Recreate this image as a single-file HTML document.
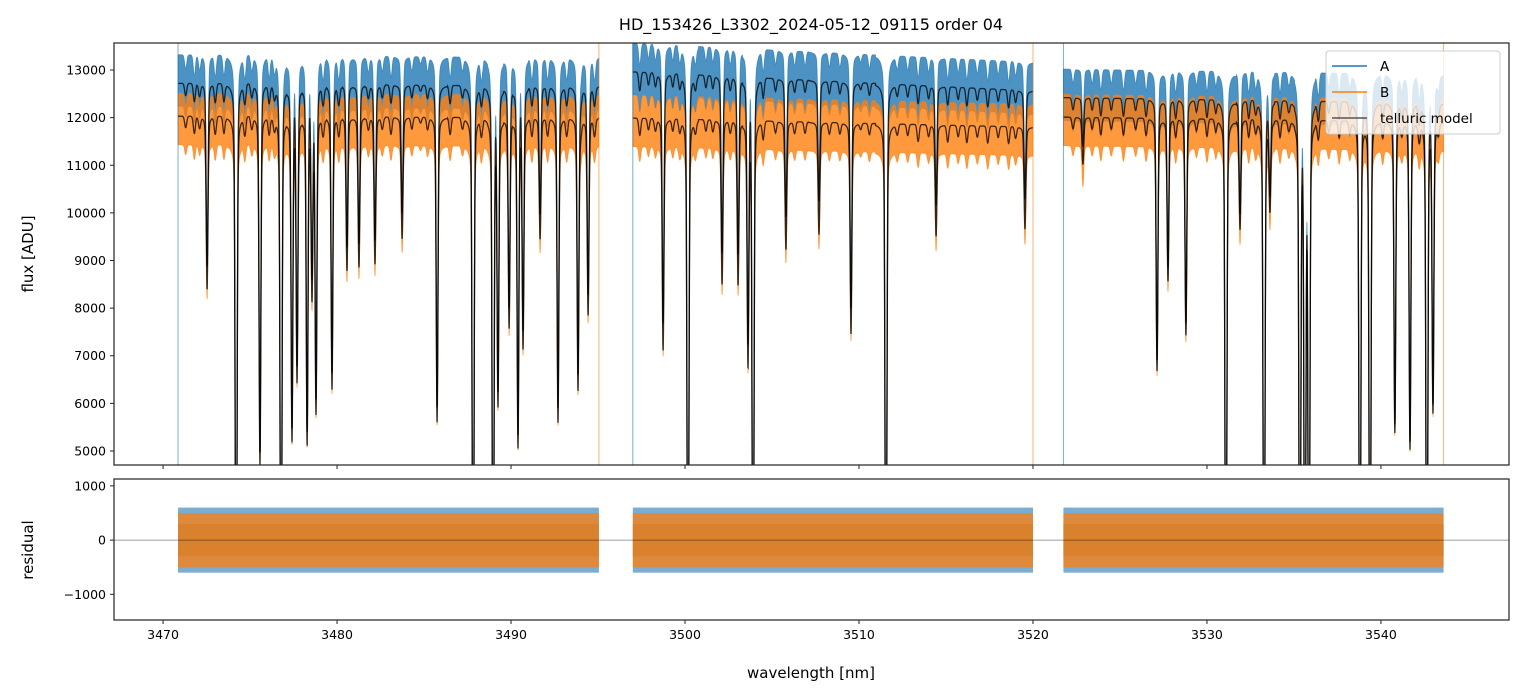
<!DOCTYPE html>
<html><head><meta charset="utf-8"><style>
body{margin:0;background:#fff;}
svg{display:block;font-family:"DejaVu Sans","Liberation Sans",sans-serif;}
</style></head><body>
<svg id="chart" width="1523" height="696" xmlns="http://www.w3.org/2000/svg">
<text x="811" y="30" text-anchor="middle" font-size="16" fill="#000">HD_153426_L3302_2024-05-12_09115  order 04</text>
<text x="811" y="678" text-anchor="middle" font-size="15" fill="#000">wavelength [nm]</text>
<text transform="translate(33,254) rotate(-90)" text-anchor="middle" font-size="15" fill="#000">flux [ADU]</text>
<text transform="translate(33,550) rotate(-90)" text-anchor="middle" font-size="15" fill="#000">residual</text>
<g id="main"></g>
<g id="resid"></g>
</svg>
<script>
// ---- data ----
const xTicks = [3470,3480,3490,3500,3510,3520,3530,3540];
const fluxTicks = [5000,6000,7000,8000,9000,10000,11000,12000,13000];
const residTicks = [-1000,0,1000];
const segStart = [3470.86, 3497.0, 3521.75];
const segEnd   = [3495.05, 3520.0, 3543.6];
// continuum knots per segment [start, end] for A and B
const contAStart = [12720, 12960, 12420];
const contAEnd   = [12650, 12560, 12300];
const contBStart = [12030, 11990, 12010];
const contBEnd   = [11990, 11800, 11900];
// deep telluric lines: centre (nm) and minimum flux
const lineCenters = [3472.53,3474.20,3475.57,3476.78,3477.41,3477.70,3478.28,3478.56,3478.79,3479.71,3480.57,3481.26,3482.18,3483.74,3485.75,3487.82,3488.97,3489.25,3489.89,3490.40,3490.69,3491.67,3492.70,3493.85,3494.43,
 3498.74,3500.17,3502.13,3503.05,3503.62,3503.91,3505.80,3507.70,3509.54,3511.55,3514.43,3519.54,
 3522.87,3527.13,3527.76,3528.79,3531.09,3531.90,3533.28,3533.62,3535.34,3535.63,3535.86,3538.79,3539.37,3540.80,3541.67,3542.64,3542.99];
const lineMinFlux = [8860,0,4960,0,5500,6850,5440,8750,6130,6640,9280,9360,9430,10000,5920,0,0,6340,8030,5380,7600,10000,5920,6640,8320,
 7600,0,9100,9100,7330,0,9910,10270,8030,0,10270,10480,
 11380,6910,8860,7690,0,10000,0,10480,0,0,0,0,0,5590,5230,0,6080];
// shallow lines (wiggles in model)
const weakCenters = [3471.3,3471.8,3472.1,3473.0,3473.5,3474.7,3475.1,3476.1,3476.4,3479.2,3480.1,3481.8,3482.6,3483.1,3484.3,3484.8,3485.2,3486.5,3487.2,3488.3,3491.2,3492.1,3493.2,3494.0,3494.8,
 3497.4,3497.9,3498.3,3499.3,3499.7,3500.6,3501.2,3501.6,3502.6,3504.5,3505.2,3506.3,3506.9,3508.3,3508.9,3510.1,3510.6,3512.2,3512.8,3513.4,3514.0,3515.1,3515.7,3516.2,3516.8,3517.4,3518.0,3518.6,3519.0,
 3522.3,3523.4,3523.9,3524.5,3525.2,3525.9,3526.5,3528.2,3529.4,3530.0,3530.5,3532.4,3532.8,3534.2,3534.7,3536.4,3537.0,3537.6,3538.2,3540.1,3541.2,3542.2,3543.3];
const weakDepth = [0.02,0.03,0.02,0.03,0.03,0.03,0.02,0.03,0.02,0.03,0.03,0.02,0.02,0.03,0.02,0.01,0.02,0.03,0.02,0.03,0.03,0.03,0.03,0.02,0.03,
 0.03,0.02,0.02,0.02,0.02,0.02,0.02,0.02,0.02,0.03,0.02,0.02,0.02,0.02,0.02,0.01,0.02,0.02,0.02,0.03,0.02,0.03,0.02,0.03,0.02,0.03,0.02,0.03,0.02,
 0.02,0.02,0.03,0.02,0.03,0.02,0.03,0.03,0.02,0.03,0.02,0.03,0.02,0.03,0.02,0.03,0.02,0.03,0.02,0.03,0.02,0.03,0.02];
const noiseA = 600;
const noiseB = 600;
const residCoreHalf = 300, residBHalf = 500, residAHalf = 600;

// ---- geometry ----
const L=114,R=1509,T1=43,B1=465,T2=479,B2=620;
const xmin=3467.18,xmax=3547.36,ymin=4706,ymax=13567,rmin=-1473,rmax=1127;
const X=v=>L+(v-xmin)/(xmax-xmin)*(R-L);
const Y=v=>B1-(v-ymin)/(ymax-ymin)*(B1-T1);
const YR=v=>B2-(v-rmin)/(rmax-rmin)*(B2-T2);
const NS='http://www.w3.org/2000/svg';
function mk(tag,attrs,parent){const e=document.createElementNS(NS,tag);for(const k in attrs)e.setAttribute(k,attrs[k]);parent.appendChild(e);return e;}
const svg=document.getElementById('chart');
const main=document.getElementById('main'), resid=document.getElementById('resid');
const cp1=mk('clipPath',{id:'c1'},svg);mk('rect',{x:L,y:T1,width:R-L,height:B1-T1},cp1);
const cp2=mk('clipPath',{id:'c2'},svg);mk('rect',{x:L,y:T2,width:R-L,height:B2-T2},cp2);

function trans(l){
  let t=1;
  for(let i=0;i<lineCenters.length;i++){
    const c=lineCenters[i];const dd=l-c; if(Math.abs(dd)>0.6)continue;
    const ref=(c<3496?12700:(c<3521?12800:12400));
    const d=Math.min(1.0,1-lineMinFlux[i]/ref);
    const s=0.05;
    t*=1-d*(0.85*Math.exp(-dd*dd/(2*s*s))+0.15/(1+(dd/0.09)**2));
  }
  for(let i=0;i<weakCenters.length;i++){const dd=l-weakCenters[i];if(Math.abs(dd)>0.5)continue;t*=1-weakDepth[i]*Math.exp(-dd*dd/(2*0.06*0.06));}
  return Math.max(t,0);
}
function cont(si,l,st,en){const f=(l-segStart[si])/(segEnd[si]-segStart[si]);return st[si]+(en[si]-st[si])*f;}

const gA=mk('g',{'clip-path':'url(#c1)'},main);
for(let si=0;si<segStart.length;si++){
  const pts=[];for(let l=segStart[si];l<=segEnd[si];l+=0.008)pts.push(l);
  const tr=pts.map(trans);
  function band(st,en,up,dn){let top='',bot='';
    pts.forEach((l,i)=>{const m=cont(si,l,st,en)*tr[i];const sc=Math.pow(Math.max(tr[i],0),3);
      top+=(i?'L':'M')+X(l).toFixed(2)+','+Y(m+up*sc).toFixed(2);});
    for(let i=pts.length-1;i>=0;i--){const l=pts[i];const m=cont(si,l,st,en)*tr[i];const sc=Math.pow(Math.max(tr[i],0),3);bot+='L'+X(l).toFixed(2)+','+Y(m-dn*sc).toFixed(2);}
    return top+bot+'Z';}
  const bA=mk('path',{d:band(contAStart,contAEnd,noiseA,noiseA*0.8),fill:'#1f77b4','fill-opacity':0.8,stroke:'#1f77b4','stroke-width':0.8,'stroke-opacity':0.7},gA);
  
  
  const bB=mk('path',{d:band(contBStart,contBEnd,noiseB*0.8,noiseB),fill:'#ff7f0e','fill-opacity':0.8,stroke:'#ff7f0e','stroke-width':0.8,'stroke-opacity':0.7},gA);
  
  
  [[contAStart,contAEnd],[contBStart,contBEnd]].forEach(([st,en])=>{
    let d='';pts.forEach((l,i)=>{d+=(i?'L':'M')+X(l).toFixed(2)+','+Y(cont(si,l,st,en)*tr[i]).toFixed(2);});
    const p=mk('path',{d:d,fill:'none',stroke:'#000','stroke-opacity':0.75,'stroke-width':1.3},gA);
    
    
  });
  [[segStart[si],'#1f77b4'],[segEnd[si],'#ff7f0e']].forEach(([v,c])=>{mk('line',{x1:X(v),x2:X(v),y1:T1,y2:B1,stroke:c,'stroke-width':1,'stroke-opacity':0.6},gA);});
  const gr=mk('g',{'clip-path':'url(#c2)'},resid);
  const x0=X(segStart[si]),w=X(segEnd[si])-x0;
  const ra=mk('rect',{x:x0,y:YR(residAHalf),width:w,height:YR(-residAHalf)-YR(residAHalf),fill:'#1f77b4','fill-opacity':0.6},gr);
  
  
  const rb=mk('rect',{x:x0,y:YR(residBHalf),width:w,height:YR(-residBHalf)-YR(residBHalf),fill:'#ff7f0e','fill-opacity':0.75},gr);
  
  
  mk('rect',{x:x0,y:YR(residCoreHalf),width:w,height:YR(-residCoreHalf)-YR(residCoreHalf),fill:'#d9802c','fill-opacity':0.9},gr);
}
mk('line',{x1:L,x2:R,y1:YR(0),y2:YR(0),stroke:'#000','stroke-width':0.8,'stroke-opacity':0.5},resid);

const f1=mk('rect',{x:L,y:T1,width:R-L,height:B1-T1,fill:'none',stroke:'#222','stroke-width':1.2},main);

const f2=mk('rect',{x:L,y:T2,width:R-L,height:B2-T2,fill:'none',stroke:'#222','stroke-width':1.2},resid);


fluxTicks.forEach(v=>{const y=Y(v);mk('line',{x1:L-4,x2:L,y1:y,y2:y,stroke:'#222'},main);
  const t=mk('text',{x:L-8,y:y+4.5,'text-anchor':'end','font-size':12.5,fill:'#000'},main);t.textContent=v;
  });
residTicks.forEach(v=>{const y=YR(v);mk('line',{x1:L-4,x2:L,y1:y,y2:y,stroke:'#222'},resid);
  const t=mk('text',{x:L-8,y:y+4.5,'text-anchor':'end','font-size':12.5,fill:'#000'},resid);t.textContent=(v<0?'\u2212'+(-v):v);
  });
xTicks.forEach(v=>{const x=X(v);mk('line',{x1:x,x2:x,y1:B1,y2:B1+4,stroke:'#222'},main);mk('line',{x1:x,x2:x,y1:B2,y2:B2+4,stroke:'#222'},resid);
  const t=mk('text',{x:x,y:B2+19,'text-anchor':'middle','font-size':12.5,fill:'#000'},resid);t.textContent=v;
  });

const lg=mk('g',{},main);


mk('rect',{x:1326,y:51,width:174,height:83,rx:3,fill:'#fff','fill-opacity':0.8,stroke:'#ccc'},lg);
[['A','#1f77b4',66],['B','#ff7f0e',92],['telluric model','#555',118]].forEach(([n,c,y])=>{
  const e=mk('g',{},lg);
  
  
  mk('line',{x1:1332,x2:1367,y1:y,y2:y,stroke:c,'stroke-width':1.6},e);
  const t=mk('text',{x:1380,y:y+5,'font-size':13.5,fill:'#000'},e);t.textContent=n;});
</script>
</body></html>
